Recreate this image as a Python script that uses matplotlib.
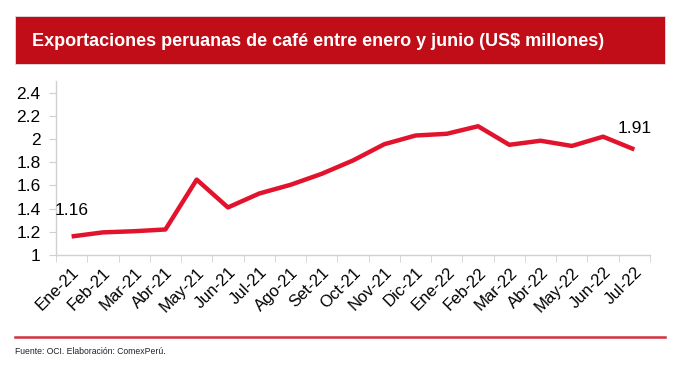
import numpy as np
import matplotlib.pyplot as plt
from matplotlib.patches import Rectangle
from matplotlib.lines import Line2D

plt.rcParams['font.family'] = ['Liberation Sans', 'DejaVu Sans']

meses = ['Ene-21', 'Feb-21', 'Mar-21', 'Abr-21', 'May-21', 'Jun-21', 'Jul-21',
         'Ago-21', 'Set-21', 'Oct-21', 'Nov-21', 'Dic-21', 'Ene-22', 'Feb-22',
         'Mar-22', 'Abr-22', 'May-22', 'Jun-22', 'Jul-22']
valores = [1.16, 1.195, 1.205, 1.22, 1.65, 1.41, 1.53, 1.605, 1.70, 1.815,
           1.955, 2.03, 2.045, 2.11, 1.95, 1.985, 1.94, 2.02, 1.91]
yticks = [1, 1.2, 1.4, 1.6, 1.8, 2, 2.2, 2.4]

W, H = 679, 368
fig = plt.figure(figsize=(W / 100, H / 100), dpi=100)

# title banner
fig.patches.append(Rectangle((15 / W, 1 - 64 / H), 650 / W, 48 / H,
                             transform=fig.transFigure, facecolor='#c00d18',
                             edgecolor='#e0e0e0', linewidth=0.6))
fig.text(32 / W, 1 - 42 / H, 'Exportaciones peruanas de café entre enero y junio (US$ millones)',
         color='white', fontsize=13, fontweight='bold', va='center', ha='left')

# bottom line + source
fig.add_artist(Line2D([15 / W, 665 / W], [1 - 337 / H, 1 - 337 / H],
                      transform=fig.transFigure, color='#d0313f', linewidth=1.8))
fig.text(15 / W, 1 - 352 / H, 'Fuente: OCI. Elaboración: ComexPerú.',
         fontsize=6.2, va='center', ha='left', color='#222222')

# axes: left 56, right 650, top 81, bottom 255
ax = fig.add_axes([56 / W, 1 - 255 / H, 594 / W, 174 / H])
x = np.arange(len(meses))
ax.plot(x, valores, color='#e2142d', linewidth=3.2, solid_capstyle='butt')
ax.set_xlim(-0.5, len(meses) - 0.5)
ax.set_ylim(1, 2.5)
ax.set_yticks(yticks)
ax.set_yticklabels([f'{v:g}' for v in yticks], fontsize=12.5)
ax.tick_params(axis='y', length=5, color='#d0d0d0', pad=6)

ax.set_xticks(x)
ax.set_xticklabels(meses, rotation=45, ha='right', rotation_mode='anchor', fontsize=12)
ax.tick_params(axis='x', length=0, pad=7)
ax.set_xticks(np.arange(len(meses) + 1) - 0.5, minor=True)
ax.tick_params(axis='x', which='minor', length=5, color='#d0d0d0')

for s in ['top', 'right']:
    ax.spines[s].set_visible(False)
for s in ['left', 'bottom']:
    ax.spines[s].set_color('#d0d0d0')
    ax.spines[s].set_linewidth(1)

ax.annotate(f'{valores[0]:.2f}', (x[0], valores[0]), xytext=(0, 13),
            textcoords='offset points', ha='center', va='bottom', fontsize=12.5)
ax.annotate(f'{valores[-1]:.2f}', (x[-1], valores[-1]), xytext=(0, 10),
            textcoords='offset points', ha='center', va='bottom', fontsize=12.5)

fig.savefig('out.png', dpi=100)
